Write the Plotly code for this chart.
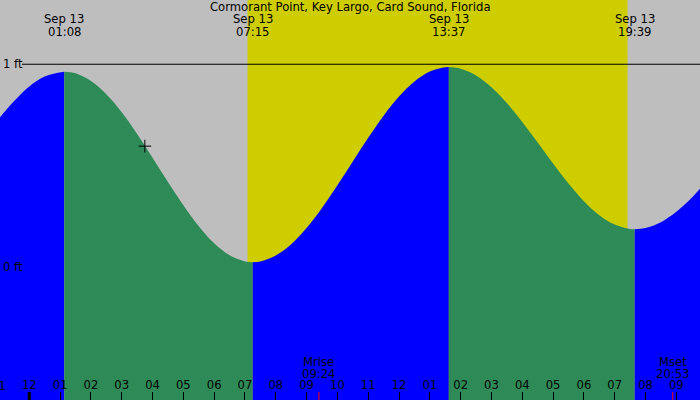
import pandas as pd
import plotly.graph_objects as go

# ---- data ----
TITLE = "Cormorant Point, Key Largo, Card Sound, Florida"

TIMES = [
    "2024-09-12 23:00", "2024-09-12 23:30", "2024-09-13 00:00", "2024-09-13 00:30",
    "2024-09-13 01:08",
    "2024-09-13 01:30", "2024-09-13 02:00", "2024-09-13 02:30", "2024-09-13 03:00",
    "2024-09-13 03:30", "2024-09-13 04:00", "2024-09-13 04:30", "2024-09-13 05:00",
    "2024-09-13 05:30", "2024-09-13 06:00", "2024-09-13 06:30", "2024-09-13 07:00",
    "2024-09-13 07:15",
    "2024-09-13 07:30", "2024-09-13 08:00", "2024-09-13 08:30", "2024-09-13 09:00",
    "2024-09-13 09:30", "2024-09-13 10:00", "2024-09-13 10:30", "2024-09-13 11:00",
    "2024-09-13 11:30", "2024-09-13 12:00", "2024-09-13 12:30", "2024-09-13 13:00",
    "2024-09-13 13:30", "2024-09-13 13:37",
    "2024-09-13 14:00", "2024-09-13 14:30", "2024-09-13 15:00", "2024-09-13 15:30",
    "2024-09-13 16:00", "2024-09-13 16:30", "2024-09-13 17:00", "2024-09-13 17:30",
    "2024-09-13 18:00", "2024-09-13 18:30", "2024-09-13 19:00", "2024-09-13 19:30",
    "2024-09-13 19:39",
    "2024-09-13 20:00", "2024-09-13 20:30", "2024-09-13 21:00", "2024-09-13 21:30",
    "2024-09-13 22:00",
]
HEIGHTS_FT = [
    0.730, 0.818, 0.891, 0.940,
    0.963,
    0.955, 0.917, 0.852, 0.764,
    0.657, 0.540, 0.420, 0.306,
    0.203, 0.119, 0.060, 0.030,
    0.026,
    0.030, 0.059, 0.114, 0.194,
    0.293, 0.404, 0.522, 0.638,
    0.747, 0.841, 0.915, 0.964,
    0.985, 0.986,
    0.978, 0.945, 0.887, 0.809,
    0.716, 0.615, 0.512, 0.413,
    0.326, 0.257, 0.211, 0.189,
    0.188,
    0.194, 0.223, 0.274, 0.343,
    0.428,
]

# high / low tide events (labels at top)
EVENT_DATE = "Sep 13"
EVENT_TIMES = ["2024-09-13 01:08", "2024-09-13 07:15", "2024-09-13 13:37", "2024-09-13 19:39"]
EVENT_LABELS = ["01:08", "07:15", "13:37", "19:39"]

SUNRISE = "2024-09-13 07:05"
SUNSET = "2024-09-13 19:25"

MOON_TIMES = ["2024-09-13 09:24", "2024-09-13 20:53"]
MOON_NAMES = ["Mrise", "Mset"]
MOON_LABELS = ["09:24", "20:53"]

MIDNIGHT = "2024-09-13 00:00"
FIRST_HOUR = "2024-09-12 23:00"   # hour tick just left of the visible range

NOW_TIME = "2024-09-13 03:45"
NOW_HEIGHT = 0.597

X_RANGE = ["2024-09-12 23:02:56", "2024-09-13 21:46:08"]
Y_RANGE = [-0.652, 1.316]
LEVEL_LINES = [1, 0]
LEVEL_LABELS = ["1 ft", "0 ft"]

# ---- styles ----
GRAY = "#bebebe"
YELLOW = "#cdcd00"
BLUE = "#0000ff"
GREEN = "#2e8b57"
FONT = dict(family="DejaVu Sans", size=11.6, color="black")

fig = go.Figure()

# split curve into rising / falling segments at extreme times
split_idx = [0] + [TIMES.index(t) for t in EVENT_TIMES] + [len(TIMES) - 1]
for k in range(len(split_idx) - 1):
    a, b = split_idx[k], split_idx[k + 1]
    xs = TIMES[a:b + 1]
    ys = HEIGHTS_FT[a:b + 1]
    rising = ys[-1] > ys[0]
    color = BLUE if rising else GREEN
    base = Y_RANGE[0] - 0.1
    fig.add_trace(go.Scatter(x=[xs[0], xs[-1]], y=[base, base], mode="lines",
                             line=dict(width=0, color=color), hoverinfo="skip",
                             showlegend=False))
    fig.add_trace(go.Scatter(x=xs, y=ys, mode="lines", line=dict(width=0, color=color, shape="spline"),
                             fill="tonexty", fillcolor=color, hoverinfo="skip",
                             showlegend=False))

# current time marker
fig.add_trace(go.Scatter(x=[NOW_TIME], y=[NOW_HEIGHT], mode="markers",
                         marker=dict(symbol="cross-thin", size=9,
                                     line=dict(width=1, color="black"), color="black"),
                         hoverinfo="skip", showlegend=False))

shapes = []
# daylight
shapes.append(dict(type="rect", xref="x", yref="paper", x0=SUNRISE, x1=SUNSET, y0=0, y1=1,
                   fillcolor=YELLOW, line=dict(width=0), layer="below"))
# 1 ft line
shapes.append(dict(type="line", xref="paper", yref="y", x0=22 / 700, x1=1,
                   y0=LEVEL_LINES[0], y1=LEVEL_LINES[0], line=dict(color="black", width=1.2),
                   layer="above"))
# midnight tick
shapes.append(dict(type="line", xref="x", yref="paper", x0=MIDNIGHT, x1=MIDNIGHT, y0=0, y1=8 / 400,
                   line=dict(color="black", width=3), layer="above"))
# moon ticks
for t in MOON_TIMES:
    shapes.append(dict(type="line", xref="x", yref="paper", x0=t, x1=t, y0=0, y1=8 / 400,
                       line=dict(color="red", width=1), layer="above"))

annotations = []
annotations.append(dict(text=TITLE, xref="paper", yref="paper", x=0.5, y=1 - 7.3 / 400,
                        xanchor="center", yanchor="middle", showarrow=False, font=FONT))
for t, lab in zip(EVENT_TIMES, EVENT_LABELS):
    annotations.append(dict(text=EVENT_DATE, xref="x", yref="paper", x=t, y=1 - 19.3 / 400,
                            xanchor="center", yanchor="middle", showarrow=False, font=FONT))
    annotations.append(dict(text=lab, xref="x", yref="paper", x=t, y=1 - 31.7 / 400,
                            xanchor="center", yanchor="middle", showarrow=False, font=FONT))
for t, name, lab in zip(MOON_TIMES, MOON_NAMES, MOON_LABELS):
    annotations.append(dict(text=name, xref="x", yref="paper", x=t, y=1 - 361.7 / 400,
                            xanchor="center", yanchor="middle", showarrow=False, font=FONT))
    annotations.append(dict(text=lab, xref="x", yref="paper", x=t, y=1 - 373.7 / 400,
                            xanchor="center", yanchor="middle", showarrow=False, font=FONT))
for lv, lab in zip(LEVEL_LINES, LEVEL_LABELS):
    annotations.append(dict(text=lab, xref="paper", yref="y", x=2 / 700, y=lv,
                            xanchor="left", yanchor="middle", showarrow=False, font=FONT,
                            borderpad=0))

# partially visible hour label just left of the range (plotly drops off-range ticks)
x0, x1 = pd.Timestamp(X_RANGE[0]), pd.Timestamp(X_RANGE[1])
t_first = pd.Timestamp(FIRST_HOUR)
frac_first = (t_first - x0) / (x1 - x0)
annotations.append(dict(text=t_first.strftime("%I"), xref="paper", yref="paper",
                        x=frac_first, y=1 - 385.7 / 400, xanchor="center", yanchor="middle",
                        showarrow=False, font=FONT))

fig.update_layout(
    width=700, height=400,
    margin=dict(l=0, r=0, t=0, b=0),
    paper_bgcolor=GRAY, plot_bgcolor=GRAY,
    showlegend=False,
    shapes=shapes, annotations=annotations,
    xaxis=dict(type="date", range=X_RANGE, showgrid=False, zeroline=False, showline=False,
               tickformat="%I", dtick=3600000, tick0=FIRST_HOUR,
               ticks="inside", ticklen=8, tickwidth=1, tickcolor="black",
               ticklabelposition="inside", ticklabeloverflow="allow",
               ticklabelstandoff=0,
               tickfont=FONT, fixedrange=True),
    yaxis=dict(range=Y_RANGE, visible=False, fixedrange=True),
    hovermode=False,
)

fig.write_html(
    "out.html",
    config={"displayModeBar": False, "staticPlot": True},
    post_script="document.body.style.margin='0';document.body.style.padding='0';"
                "document.body.style.overflow='hidden';",
)
